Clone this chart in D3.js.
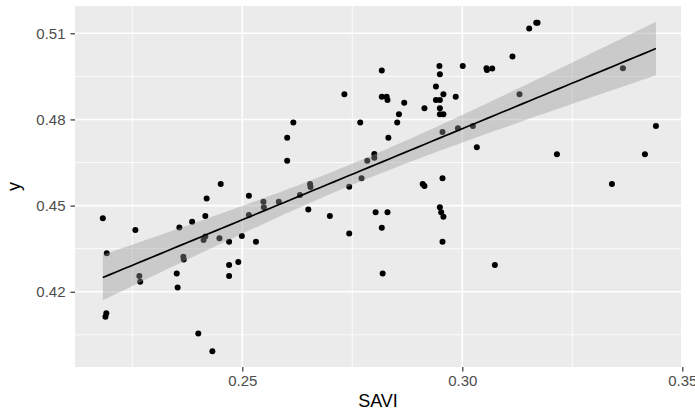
<!DOCTYPE html>
<html>
<head>
<meta charset="utf-8">
<script src="https://cdn.jsdelivr.net/npm/d3@7"></script>
<style>
  html, body { margin: 0; padding: 0; background: #ffffff; }
  svg { display: block; font-family: "Liberation Sans", Arial, sans-serif; }
</style>
</head>
<body>
<svg id="chart" width="695" height="411"></svg>
<script>
// ---- data ----
const saviValues = [
  0.2183, 0.2192, 0.2191, 0.2189, 0.2257, 0.2266, 0.2268, 0.2351, 0.2353, 0.2357,
  0.2366, 0.2367, 0.2386, 0.2400, 0.2416, 0.2419, 0.2412, 0.2416, 0.2432, 0.2448,
  0.2451, 0.2470, 0.2470, 0.2470, 0.2491, 0.2499, 0.2515, 0.2515, 0.2531, 0.2548,
  0.2549, 0.2583, 0.2602, 0.2616, 0.2602, 0.2631, 0.2654, 0.2655, 0.2650, 0.2699,
  0.2732, 0.2743, 0.2743, 0.2768, 0.2771, 0.2784, 0.2800, 0.2800, 0.2803, 0.2817,
  0.2817, 0.2828, 0.2830, 0.2817, 0.2819, 0.2830, 0.2832, 0.2852, 0.2856, 0.2868,
  0.2910, 0.2914, 0.2914, 0.2940, 0.2948, 0.2949, 0.2940, 0.2949, 0.2957, 0.2949,
  0.2949, 0.2957, 0.2955, 0.2955, 0.2949, 0.2952, 0.2957, 0.2955, 0.2985, 0.2990,
  0.3001, 0.3024, 0.3033, 0.3055, 0.3056, 0.3068, 0.3074, 0.3114, 0.3130, 0.3152,
  0.3168, 0.3171, 0.3215, 0.3340, 0.3365, 0.3415, 0.3440
];
const yValues = [
  0.4456, 0.4334, 0.4125, 0.4113, 0.4415, 0.4255, 0.4235, 0.4264, 0.4215, 0.4424,
  0.4322, 0.4312, 0.4444, 0.4055, 0.4464, 0.4525, 0.4380, 0.4392, 0.3993, 0.4386,
  0.4575, 0.4374, 0.4293, 0.4255, 0.4304, 0.4394, 0.4534, 0.4467, 0.4374, 0.4513,
  0.4494, 0.4513, 0.4736, 0.4789, 0.4656, 0.4537, 0.4575, 0.4565, 0.4486, 0.4464,
  0.4888, 0.4566, 0.4403, 0.4789, 0.4595, 0.4656, 0.4680, 0.4667, 0.4477, 0.4970,
  0.4879, 0.4879, 0.4868, 0.4423, 0.4264, 0.4477, 0.4736, 0.4789, 0.4818, 0.4858,
  0.4575, 0.4568, 0.4839, 0.4915, 0.4986, 0.4957, 0.4868, 0.4868, 0.4888, 0.4839,
  0.4818, 0.4818, 0.4756, 0.4595, 0.4494, 0.4477, 0.4461, 0.4374, 0.4879, 0.4769,
  0.4986, 0.4777, 0.4703, 0.4978, 0.4972, 0.4977, 0.4293, 0.5019, 0.4888, 0.5117,
  0.5137, 0.5137, 0.4679, 0.4575, 0.4978, 0.4679, 0.4777
];
const xTicks = [0.25, 0.30, 0.35];
const xTickLabels = ["0.25", "0.30", "0.35"];
const yTicks = [0.42, 0.45, 0.48, 0.51];
const yTickLabels = ["0.42", "0.45", "0.48", "0.51"];
const xMinor = [0.225, 0.275, 0.325];
const yMinor = [0.405, 0.435, 0.465, 0.495];
const xTitle = "SAVI";
const yTitle = "y";

// ---- layout ----
const svg = d3.select("#chart");
const panel = { left: 75, right: 681, top: 6, bottom: 367 };
const x = d3.scaleLinear().domain([0.21198, 0.3497]).range([panel.left, panel.right]);
const y = d3.scaleLinear().domain([0.3938, 0.5195]).range([panel.bottom, panel.top]);

// panel background
svg.append("rect")
  .attr("x", panel.left).attr("y", panel.top)
  .attr("width", panel.right - panel.left).attr("height", panel.bottom - panel.top)
  .attr("fill", "#EBEBEB");

// grid
const grid = svg.append("g");
grid.selectAll(".xminor").data(xMinor).join("line")
  .attr("x1", d => x(d)).attr("x2", d => x(d))
  .attr("y1", panel.top).attr("y2", panel.bottom)
  .attr("stroke", "#fff").attr("stroke-width", 0.8);
grid.selectAll(".yminor").data(yMinor).join("line")
  .attr("y1", d => y(d)).attr("y2", d => y(d))
  .attr("x1", panel.left).attr("x2", panel.right)
  .attr("stroke", "#fff").attr("stroke-width", 0.8);
grid.selectAll(".xmajor").data(xTicks).join("line")
  .attr("x1", d => x(d)).attr("x2", d => x(d))
  .attr("y1", panel.top).attr("y2", panel.bottom)
  .attr("stroke", "#fff").attr("stroke-width", 1.6);
grid.selectAll(".ymajor").data(yTicks).join("line")
  .attr("y1", d => y(d)).attr("y2", d => y(d))
  .attr("x1", panel.left).attr("x2", panel.right)
  .attr("stroke", "#fff").attr("stroke-width", 1.6);

// points
const pts = saviValues.map((v, i) => ({ x: v, y: yValues[i] }));
svg.append("g").selectAll("circle").data(pts).join("circle")
  .attr("cx", d => x(d.x)).attr("cy", d => y(d.y)).attr("r", 3)
  .attr("fill", "#000");

// linear fit with 95% confidence band (as geom_smooth(method = "lm"))
const n = pts.length;
const mx = d3.mean(pts, d => d.x), my = d3.mean(pts, d => d.y);
const sxx = d3.sum(pts, d => (d.x - mx) ** 2);
const sxy = d3.sum(pts, d => (d.x - mx) * (d.y - my));
const slope = sxy / sxx, intercept = my - slope * mx;
const sse = d3.sum(pts, d => (d.y - (intercept + slope * d.x)) ** 2);
const s = Math.sqrt(sse / (n - 2));
const tq = 1.985;
const [xmin, xmax] = d3.extent(pts, d => d.x);
const grid80 = d3.range(80).map(i => xmin + (xmax - xmin) * i / 79);
const fit = grid80.map(xv => {
  const yh = intercept + slope * xv;
  const se = s * Math.sqrt(1 / n + (xv - mx) ** 2 / sxx);
  return { x: xv, y: yh, lo: yh - tq * se, hi: yh + tq * se };
});
svg.append("path").datum(fit)
  .attr("d", d3.area().x(d => x(d.x)).y0(d => y(d.lo)).y1(d => y(d.hi)))
  .attr("fill", "#999999").attr("fill-opacity", 0.4);
svg.append("path").datum(fit)
  .attr("d", d3.line().x(d => x(d.x)).y(d => y(d.y)))
  .attr("fill", "none").attr("stroke", "#000").attr("stroke-width", 1.7);

// axes
const xAxis = d3.axisBottom(x).tickValues(xTicks).tickFormat((d, i) => xTickLabels[i])
  .tickSize(4.5).tickPadding(4);
const gx = svg.append("g").attr("transform", `translate(0,${panel.bottom})`).call(xAxis);
gx.select(".domain").remove();
gx.selectAll("line").attr("stroke", "#333333").attr("stroke-width", 1.2);
gx.selectAll("text").attr("fill", "#4D4D4D").style("font-size", "15px");

const yAxis = d3.axisLeft(y).tickValues(yTicks).tickFormat((d, i) => yTickLabels[i])
  .tickSize(4.5).tickPadding(5);
const gy = svg.append("g").attr("transform", `translate(${panel.left},0)`).call(yAxis);
gy.select(".domain").remove();
gy.selectAll("line").attr("stroke", "#333333").attr("stroke-width", 1.2);
gy.selectAll("text").attr("fill", "#4D4D4D").style("font-size", "15px");

// titles
svg.append("text")
  .attr("x", (panel.left + panel.right) / 2).attr("y", 407)
  .attr("text-anchor", "middle").attr("fill", "#000")
  .style("font-size", "18px").text(xTitle);
svg.append("text")
  .attr("transform", `translate(20,${(panel.top + panel.bottom) / 2}) rotate(-90)`)
  .attr("text-anchor", "middle").attr("fill", "#000")
  .style("font-size", "18px").text(yTitle);
</script>
</body>
</html>
